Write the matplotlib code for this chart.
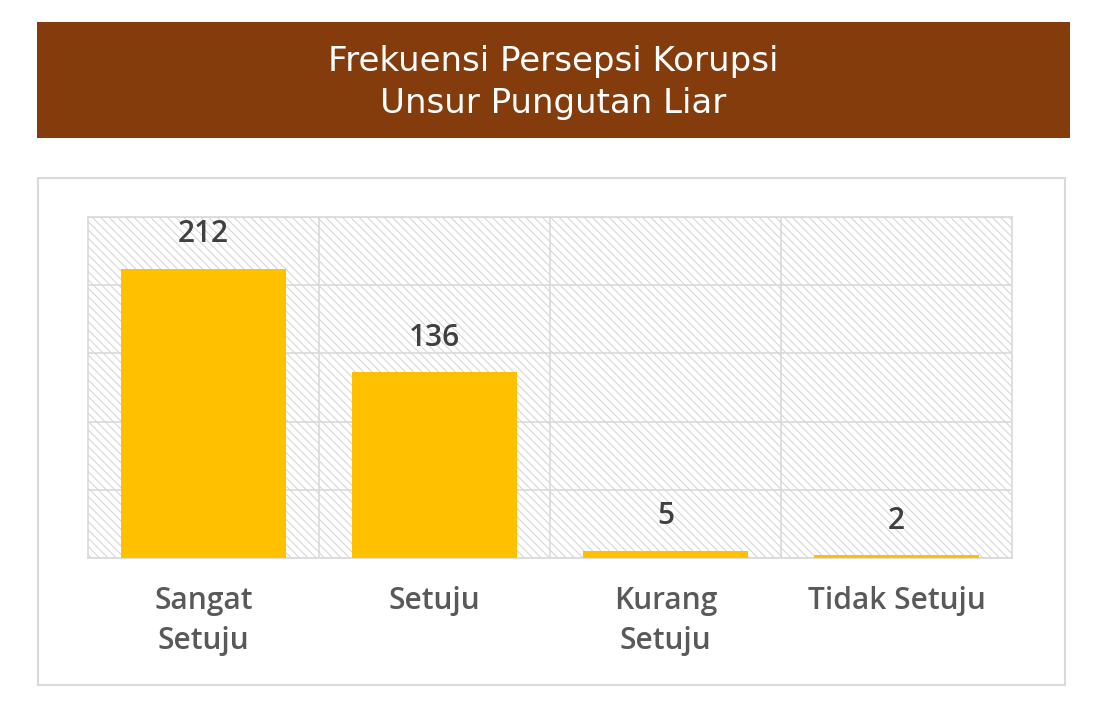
import matplotlib.pyplot as plt
from matplotlib.patches import Rectangle

# data
categories = ["Sangat\nSetuju", "Setuju", "Kurang\nSetuju", "Tidak Setuju"]
values = [212, 136, 5, 2]
title_lines = ["Frekuensi Persepsi Korupsi", "Unsur Pungutan Liar"]

W, H = 1106, 704
fig = plt.figure(figsize=(W / 100, H / 100), dpi=100)
plt.rcParams['hatch.linewidth'] = 0.7


def fx(px):
    return px / W


def fy(py):
    return 1 - py / H


# title banner
fig.patches.append(Rectangle((fx(37), fy(138)), fx(1070) - fx(37), fy(22) - fy(138),
                             transform=fig.transFigure, facecolor="#843C0C",
                             edgecolor="none", zorder=-2))
fig.text(0.5, fy(62), title_lines[0], color="white", ha="center", va="center",
         fontsize=24.5, family="DejaVu Sans")
fig.text(0.5, fy(103), title_lines[1], color="white", ha="center", va="center",
         fontsize=24.5, family="DejaVu Sans")

# chart frame
fig.patches.append(Rectangle((fx(38), fy(685)), fx(1065) - fx(38), fy(178) - fy(685),
                             transform=fig.transFigure, facecolor="white",
                             edgecolor="#d9d9d9", linewidth=1.5, zorder=-2))

ax = fig.add_axes([fx(88), fy(558), fx(1012) - fx(88), fy(217) - fy(558)])
ax.set_facecolor("none")
ax.add_patch(Rectangle((0, 0), 1, 1, transform=ax.transAxes, facecolor="white",
                       edgecolor="#d2d2d2", hatch="\\\\\\\\", linewidth=0, zorder=0))

x = list(range(len(categories)))
bars = ax.bar(x, values, width=0.71, color="#FFC000", zorder=3)
for b, v in zip(bars, values):
    ax.annotate(str(v), (b.get_x() + b.get_width() / 2, v), xytext=(0, 25),
                textcoords="offset points", ha="center", va="center",
                fontsize=21.5, color="#404040", family="Open Sans", weight="semibold")

ax.set_xlim(-0.5, 3.5)
ax.set_ylim(0, 250)
ax.set_yticks(range(0, 251, 50))
ax.set_xticks(x)
ax.set_xticklabels(categories, fontsize=21.5, color="#595959", family="Open Sans",
                   weight="semibold", linespacing=1.45)
ax.set_xticks([0.5, 1.5, 2.5], minor=True)
ax.tick_params(axis="x", which="both", length=0, pad=20)
ax.tick_params(axis="y", length=0, labelleft=False)
ax.grid(axis="y", color="#d9d9d9", linewidth=1.2, zorder=1)
ax.grid(axis="x", which="minor", color="#d9d9d9", linewidth=1.2, zorder=1)
ax.set_axisbelow(True)
for s in ax.spines.values():
    s.set_color("#d9d9d9")
    s.set_linewidth(1.2)

fig.savefig("out.png", dpi=100)
